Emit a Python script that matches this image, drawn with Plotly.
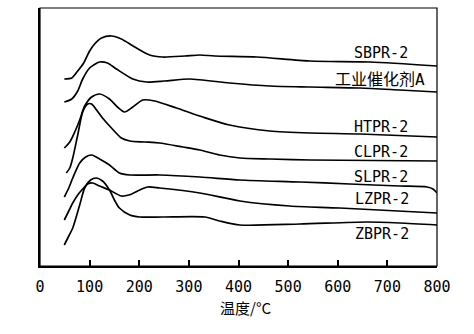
import plotly.graph_objects as go

# Temperature (°C) and relative signal values
sbpr_t = [49, 64, 76, 88, 100, 110, 124, 144, 164, 191, 221, 247, 292, 322, 352, 437, 544, 665, 800]
sbpr_s = [187, 188, 195, 203, 215, 222, 228, 230, 227, 219, 211, 209, 210, 211, 210, 209, 205, 204, 200]

gy_t = [49, 64, 76, 86, 100, 120, 136, 154, 187, 215, 251, 302, 382, 463, 544, 645, 725, 800]
gy_s = [164, 167, 175, 187, 198, 204, 203, 197, 187, 184, 185, 187, 183, 180, 179, 178, 176, 174]

htpr_t = [49, 60, 70, 80, 90, 104, 120, 140, 156, 170, 187, 207, 231, 275, 328, 382, 463, 544, 645, 800]
htpr_s = [118, 124, 134, 146, 160, 169, 172, 167, 159, 154, 159, 166, 165, 158, 149, 141, 135, 133, 132, 129]

clpr_t = [53, 60, 66, 76, 86, 96, 104, 114, 126, 144, 164, 181, 211, 241, 288, 322, 362, 403, 463, 544, 800]
clpr_s = [93, 98, 108, 131, 154, 162, 162, 156, 148, 138, 128, 125, 124, 123, 119, 116, 111, 108, 107, 106, 105]

slpr_t = [49, 58, 66, 80, 92, 104, 120, 140, 160, 181, 241, 322, 403, 524, 624, 725, 780, 792, 800]
slpr_s = [69, 78, 88, 103, 109, 111, 107, 101, 93, 91, 91, 89, 86, 84, 82, 80, 79, 77, 73]

lzpr_t = [49, 58, 66, 76, 86, 96, 106, 120, 140, 164, 185, 201, 217, 241, 322, 403, 503, 604, 800]
lzpr_s = [46, 55, 63, 71, 77, 82, 83, 80, 76, 70, 72, 76, 79, 78, 73, 65, 60, 58, 53]

zbpr_t = [49, 58, 66, 80, 90, 102, 114, 126, 140, 150, 160, 181, 201, 247, 332, 362, 403, 524, 659, 725, 800]
zbpr_s = [21, 30, 38, 61, 78, 86, 88, 85, 76, 66, 58, 51, 49, 49, 49, 45, 41, 42, 44, 43, 41]

series_names = ["SBPR-2", "工业催化剂A", "HTPR-2", "CLPR-2", "SLPR-2", "LZPR-2", "ZBPR-2"]
series_t = [sbpr_t, gy_t, htpr_t, clpr_t, slpr_t, lzpr_t, zbpr_t]
series_s = [sbpr_s, gy_s, htpr_s, clpr_s, slpr_s, lzpr_s, zbpr_s]

x_ticks = [0, 100, 200, 300, 400, 500, 600, 700, 800]
x_title = "温度/°C"

# label placement (x right edge in °C, y in signal units)
label_x = [745, 780, 745, 745, 745, 748, 748]
label_y = [213, 187, 139, 114, 89, 67, 32]

fig = go.Figure()
for name, t, s in zip(series_names, series_t, series_s):
    fig.add_trace(go.Scatter(x=t, y=s, mode="lines", name=name,
                             line=dict(color="black", width=1.7, shape="spline", smoothing=0.7),
                             showlegend=False, hoverinfo="skip"))

lab_font = dict(family="DejaVu Sans Mono, Noto Sans CJK SC", size=15, color="black")
for name, lx, ly in zip(series_names, label_x, label_y):
    f = dict(lab_font)
    if name.startswith("工"):
        f["size"] = 16
    fig.add_annotation(x=lx, y=ly, xref="x", yref="y", text=name, showarrow=False,
                       xanchor="right", yanchor="middle", font=f)

fig.add_annotation(x=0.518, y=-0.159, xref="paper", yref="paper", text=x_title,
                   showarrow=False, xanchor="center", yanchor="middle",
                   font=dict(family="Noto Sans CJK SC", size=15, color="black"))

fig.add_shape(type="rect", xref="paper", yref="paper", x0=0, y0=0, x1=1, y1=1,
              line=dict(color="black", width=1.2))

fig.update_layout(
    width=474, height=334,
    margin=dict(l=40, r=37, t=8, b=68),
    paper_bgcolor="white", plot_bgcolor="white",
    xaxis=dict(range=[0, 800], tickvals=x_ticks, ticktext=[str(v) for v in x_ticks],
               ticks="inside", ticklen=6, tickwidth=2, tickcolor="black",
               showline=True, linewidth=2, linecolor="black", showgrid=False, zeroline=False,
               tickfont=dict(family="DejaVu Sans Mono", size=15, color="black"),
               ticklabelstandoff=6),
    yaxis=dict(range=[0, 258], showticklabels=False, ticks="", showline=True,
               linewidth=2, linecolor="black", showgrid=False, zeroline=False),
)

fig.write_html("out.html")
